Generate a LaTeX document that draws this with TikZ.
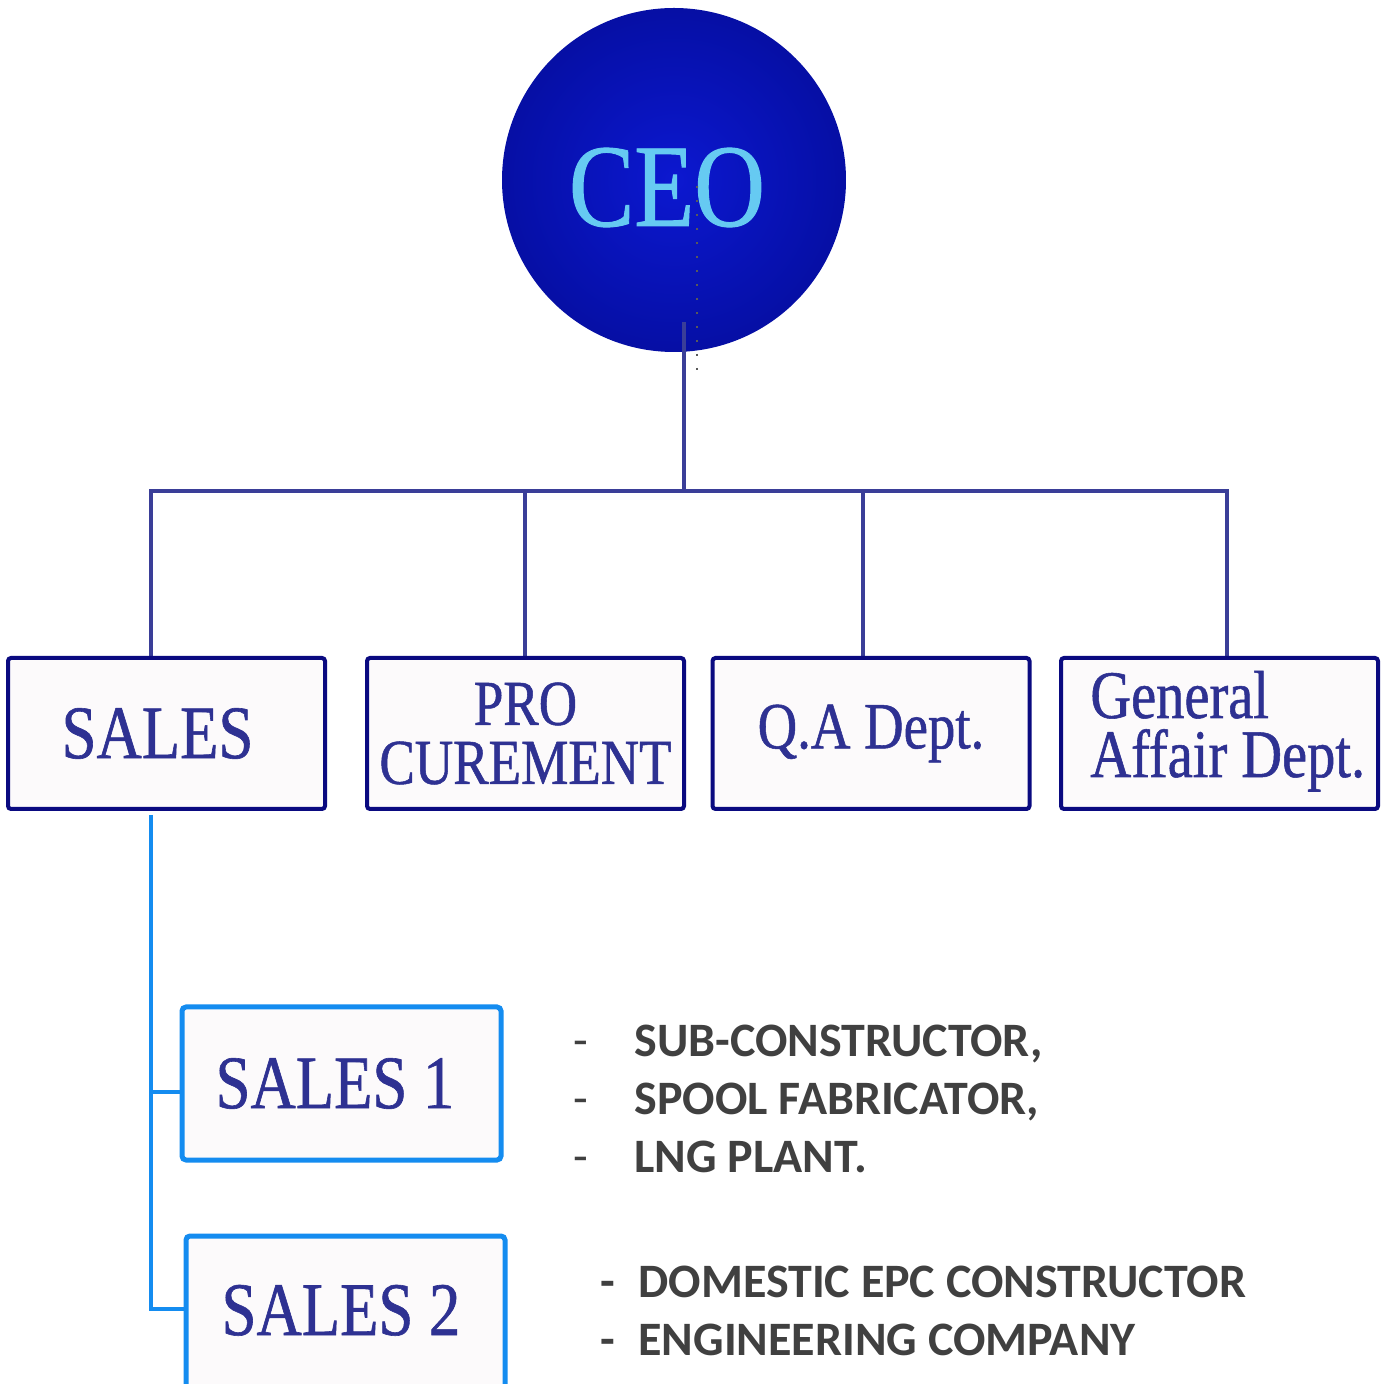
\documentclass[tikz,border=0pt]{standalone}
\usepackage{fontspec}
\setmainfont{Liberation Serif}[FakeStretch=0.83, FakeBold=0.8]
\newfontfamily\listfont{Carlito}
\usetikzlibrary{calc}
\definecolor{ceoIn}{RGB}{12,24,208}
\definecolor{ceoMid}{RGB}{6,16,170}
\definecolor{ceoOut}{RGB}{2,6,116}
\definecolor{ceoTxt}{RGB}{102,202,242}
\definecolor{navyLine}{RGB}{58,62,152}
\definecolor{boxBorder}{RGB}{10,10,128}
\definecolor{boxFill}{RGB}{252,250,251}
\definecolor{deptTxt}{RGB}{46,49,146}
\definecolor{skyLine}{RGB}{20,140,240}
\definecolor{listTxt}{RGB}{64,64,64}
\pgfdeclareradialshading{ceoshade}{\pgfpoint{0bp}{0bp}}{color(0bp)=(ceoIn); color(22bp)=(ceoMid); color(50bp)=(ceoOut)}
\tikzset{
  deptbox/.style={draw=boxBorder, line width=2pt, fill=boxFill, rounded corners=1.5pt,
    minimum width=158.5pt, minimum height=75.5pt, inner sep=0pt, outer sep=0pt,
    text=deptTxt, align=center},
  subbox/.style={draw=skyLine, line width=2.5pt, fill=boxFill, rounded corners=2pt,
    minimum width=159.5pt, minimum height=76.5pt, inner sep=0pt, outer sep=0pt,
    text=deptTxt},
  navyconn/.style={draw=navyLine, line width=1.6pt},
  skyconn/.style={draw=skyLine, line width=2.2pt},
  listitem/.style={anchor=base west, inner sep=0pt, text=listTxt,
    font=\listfont\bfseries\fontsize{24pt}{29pt}\selectfont},
  listdash/.style={anchor=base west, inner sep=0pt, text=listTxt},
}
\begin{document}
\begin{tikzpicture}[x=0.5pt, y=-0.5pt]
\useasboundingbox (0,0) rectangle (1388,1384);
\fill[white] (0,0) rectangle (1388,1384);

% CEO
\node[circle, minimum size=172pt, inner sep=0pt, shading=ceoshade] (ceo) at (674,180) {};
\node[text=ceoTxt, inner sep=0pt, anchor=base, font=\fontsize{59pt}{60pt}\selectfont] (ceotext) at (667,226) {CEO};
\coordinate (dotTop) at (697,186);
\coordinate (dotBot) at (697,372);
\draw[gray!70!black, line width=0.9pt, dash pattern=on 1pt off 6pt] (dotTop) -- (dotBot);

% connectors
\coordinate (ceoTail) at (684,322);
\coordinate (busC) at (684,491);
\coordinate (d1) at (151,658);
\coordinate (d2) at (525,658);
\coordinate (d3) at (863,658);
\coordinate (d4) at (1227,658);
\draw[navyconn] (ceoTail) -- (busC);
\draw[navyconn] (d1) -- (d1 |- busC) -- (d4 |- busC) -- (d4);
\draw[navyconn] (d2) -- (d2 |- busC);
\draw[navyconn] (d3) -- (d3 |- busC);

% department boxes
\node[deptbox, font=\fontsize{37.8pt}{40pt}\selectfont] (sales) at (166.5,733.5) {SALES\hspace*{9pt}};
\node[deptbox, font=\fontsize{32pt}{29.5pt}\selectfont] (pro) at (525.5,733.5) {PRO\\CUREMENT};
\node[deptbox, font=\fontsize{33pt}{36pt}\selectfont] (qa) at (871,733.5) {\raisebox{-2.5pt}{Q.A Dept.}};
\node[deptbox] (ga) at (1219.5,733.5) {};
\node[anchor=base west, inner sep=0pt, text=deptTxt, align=left,
  font=\fontsize{34pt}{29.5pt}\selectfont] (gatext) at (1090,777) {General\\Affair Dept.};

% sales sub-units
\node[subbox, font=\fontsize{37.8pt}{40pt}\selectfont] (sales1) at (341.5,1083.5) {SALES 1\hspace*{6.5pt}};
\node[subbox, minimum height=86pt] (sales2) at (345.5,1322) {};
\node[anchor=base, inner sep=0pt, text=deptTxt, font=\fontsize{37.8pt}{40pt}\selectfont]
  (s2text) at (341,1335) {SALES 2};

\coordinate (bTop) at (151,815);
\coordinate (b1) at (151,1092);
\coordinate (b2) at (151,1309);
\draw[skyconn] (bTop) -- (b2) -- (b2 -| sales2.west);
\draw[skyconn] (b1) -- (b1 -| sales1.west);

% lists
\node[listdash, font=\listfont\fontsize{24pt}{29pt}\selectfont] (dA) at (573,1057) {-};
\node[listdash, font=\listfont\fontsize{24pt}{29pt}\selectfont] (dB) at (573,1115) {-};
\node[listdash, font=\listfont\fontsize{24pt}{29pt}\selectfont] (dC) at (573,1173) {-};
\node[listitem] (iA) at (634,1057) {SUB-CONSTRUCTOR,};
\node[listitem] (iB) at (634,1115) {SPOOL FABRICATOR,};
\node[listitem] (iC) at (634,1173) {LNG PLANT.};

\node[listdash, font=\listfont\bfseries\fontsize{24pt}{29pt}\selectfont] (dD) at (600,1297) {-};
\node[listdash, font=\listfont\bfseries\fontsize{24pt}{29pt}\selectfont] (dE) at (600,1355) {-};
\node[listitem] (iD) at (638,1297) {DOMESTIC EPC CONSTRUCTOR};
\node[listitem] (iE) at (638,1355) {ENGINEERING COMPANY};
\end{tikzpicture}
\end{document}
